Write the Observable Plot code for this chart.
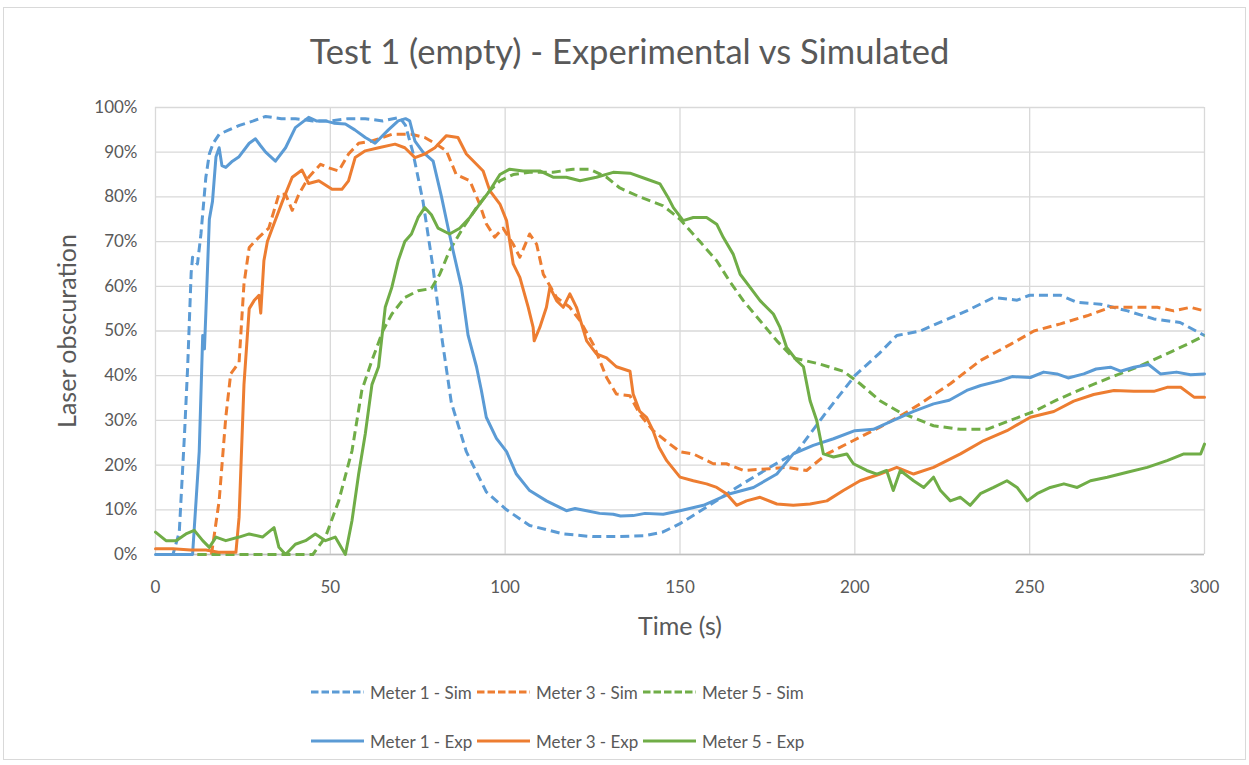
<!DOCTYPE html>
<html><head><meta charset="utf-8">
<script src="https://cdn.jsdelivr.net/npm/d3@7"></script>
<script src="https://cdn.jsdelivr.net/npm/@observablehq/plot@0.6"></script>
<style>
body{margin:0;background:#fff;font-family:Lato,"Open Sans",sans-serif;width:1249px;height:765px;overflow:hidden;position:relative;}
#frame{position:absolute;left:3px;top:7px;width:1243px;height:753px;border:1px solid #d9d9d9;box-sizing:border-box;}
#title{position:absolute;left:0;width:1259px;top:30px;text-align:center;font-size:34.5px;color:#595959;line-height:42px;}
#chart{position:absolute;left:0;top:0;}
.item{position:absolute;display:flex;align-items:center;font-size:17px;color:#595959;height:26px;white-space:nowrap;}
.item svg{margin-right:6px;}
#chart svg [aria-label="x-axis label"] text,#chart svg [aria-label="y-axis label"] text{font-size:25px;}
</style></head>
<body>
<div id="frame"></div>
<div id="title">Test 1 (empty) - Experimental vs Simulated</div>
<div id="chart"></div>
<div id="legend"></div>
<script>
const xTicks = [0, 50, 100, 150, 200, 250, 300];
const yTicks = [0, 10, 20, 30, 40, 50, 60, 70, 80, 90, 100];

const seriesNames = ["Meter 1 - Sim", "Meter 3 - Sim", "Meter 5 - Sim", "Meter 1 - Exp", "Meter 3 - Exp", "Meter 5 - Exp"];
const seriesColors = ["#5B9BD5", "#ED7D31", "#70AD47", "#5B9BD5", "#ED7D31", "#70AD47"];
const seriesDashed = [true, true, true, false, false, false];

const m1SimT = [0,5,6.8,8.3,9.2,10.2,10.6,12,13,14.4,15.4,16.5,18.2,21,24,28,31.5,36,40,45,50,55,60,65,69.8,71.5,73.6,76.5,79.4,81.8,84.6,88.9,94.6,100.4,107,116.6,125,132,140,145,150,157.6,166.2,175.7,183.4,192,200,207,212,218.7,224.5,232,239.7,246.4,250,258.8,263.6,270.3,278,285.5,293,300];
const m1SimV = [0,0,5,27,42,63,66.5,65,71.7,84.4,89.6,92,94,95,96,97,98,97.5,97.5,97,97,97.5,97.5,97,97.8,96,90,79,64,49,34,23,14,10,6.5,4.6,4,4,4.2,5,6.9,10.6,15,19.5,23,32,40,45,49,50,52,54.5,57.5,56.9,58,58,56.4,56,54.5,52.7,51.9,49];

const m3SimT = [0,16,18.2,20.1,21.5,23.9,25.3,26.8,29.6,32.4,35.3,37.2,39.1,41,43.8,47.2,49.5,52.4,55.2,58.1,61.9,67.6,73.2,77,80.3,83.2,86,89.9,92.7,94.6,97,99.4,102.3,104.2,107,109,110.9,114.7,118.5,121.4,125.2,129,131.8,135.7,138.5,142.3,147.1,150,153.8,159.5,163.3,168.1,175.7,180.5,186.2,192,199.6,207.2,213.9,218.7,227.3,235.9,244.5,251.2,258.8,266.4,273.1,279.8,286.5,291.2,296,300];
const m3SimV = [0,0,12,30.7,40.4,43,60.5,68.7,71,73,80.6,80.6,77,80.6,84.4,87.3,86.5,85.8,89.6,92,92.5,94,94,93.3,91.8,90.3,85,83.6,78.4,74,71,73,69.4,66.5,71.7,69.4,62.7,57.5,55.3,52.3,47,39.6,35.9,35.5,31.4,27.7,24.7,23,22.5,20.3,20.3,18.8,19.2,19.5,18.8,22.5,25.5,28.5,31.4,33.7,38.2,43.4,47,50,51.6,53.4,55.3,55.3,55.3,54.5,55.3,54.5];

const m5SimT = [0,45,48.6,52.4,56.2,59,61.9,65,67.6,71.3,75.1,78.9,81.3,84.1,87.9,91.8,95.6,98.5,102.3,107,113.7,119.4,124.2,129,132.8,138.5,145.2,150,155.7,160.5,164.3,168.1,172.9,177.7,182.4,190,196.7,201.5,207.2,212.9,218.7,222.5,230.2,237.8,244.5,251.2,257.8,265.5,273.1,280.7,288.4,295,300];
const m5SimV = [0,0,3.9,12,23.2,36.7,43.4,50,53.8,57.5,59,59.5,62.7,68,73,77.6,81.4,83.6,85,85.5,85.5,86.2,86.2,84.4,82,80,78,75,70,65.7,61,56.8,52.3,47.8,44,42.6,41,38.2,34.4,31.8,30,28.8,28,28,30,32,34.6,37.2,39.6,41.9,44.6,47,49];

const m1ExpT = [0,5,10.6,11.6,12.5,13.5,14,14.4,15.4,16.3,17.3,18.2,19,20.1,22,23.9,26.8,28.6,30,31.5,34.3,37.2,40,43.8,46,48.6,51,54.3,57,60,62.8,66.6,69.4,71.5,72.7,74.2,76.5,79.4,81.8,83.7,85.1,87.5,89.4,91.8,93.2,94.6,97.5,100.4,103.2,107,111.8,117.5,120,123.3,127,130.9,133,136.6,140,145.2,150,156.7,164.3,171,177.7,182.4,188.1,193.9,200,205.3,211,216.8,222.5,227,232,236,241.6,245,250.2,254,257.8,261,265.5,269,273.1,276,279.8,284,287.4,292,296,300];
const m1ExpV = [0,0,0,12,23,49,46,54,75,79,89,91,87,86.6,88,89,92,93,91.5,90,88,91,95.5,97.8,97,97,96.5,96.3,95,93.3,92,95,97,97.5,97,92.5,90,88,80,73,68,59.8,49,42,36.7,30.7,26,23,18,14.3,12,9.8,10.3,9.8,9.2,9,8.6,8.7,9.2,9,9.8,11,13.6,15,18,22.5,24.4,25.9,27.7,28,30,32,33.7,34.5,36.7,37.8,38.9,39.8,39.6,40.8,40.4,39.5,40.4,41.5,41.9,41,41.9,42.5,40.4,40.8,40.2,40.4];

const m3ExpT = [0,5,10,14.4,18,23,23.9,25.3,26.8,28.2,29.6,30.1,31,32,33.4,36.3,39.1,41.9,43.8,46.7,50.5,53.3,55.2,57.1,60,63.8,68.5,71.3,74.2,77,79.9,83.2,86.5,88.9,91.8,93.7,95.6,98.5,100.4,102.3,104.2,106.6,108,108.3,109.9,111.8,112.8,114.7,116.6,118.5,120.4,123.3,126.1,129,131.8,135.7,136.6,138.5,140.4,142.3,144,146.2,150,153.8,157.6,160.5,163.3,166.2,169,172.9,177.7,182.4,187.2,192,196.7,201.5,207.2,212,216.8,222.5,230.2,236.9,243.5,250.2,256.9,262.6,268.3,274.1,279.8,285.5,289.3,293.2,297,300];
const m3ExpV = [1.3,1.3,1,1,0.5,0.5,8.3,38,55,56.8,58,54,65.7,70,73,79,84.4,86,83,83.6,81.7,81.7,83.6,88.8,90.3,91,91.8,91,88.8,89.6,91,93.7,93.3,89.6,87.3,85.8,81.4,78.4,74.7,65,62,55.3,50.8,47.8,50.8,55.3,59.8,56.8,55.3,58.3,55.3,47.8,44.9,44,42,41,35.9,32,30.7,27.7,24,21,17.3,16.5,15.8,15,13.6,11,12,12.8,11.3,11,11.3,12,14.3,16.5,18,19.5,18,19.5,22.5,25.5,27.7,30.7,32,34.3,35.8,36.7,36.5,36.5,37.4,37.4,35.2,35.2];

const m5ExpT = [0,3,5.9,8.7,11.1,13.5,15.4,17.3,20.1,23.9,26.8,30.6,33.9,35.3,37.2,40,42.9,45.7,48.6,51.4,54.3,56.2,58.1,60,61.9,63.8,65.7,67.6,69.4,71.3,73.2,75.1,77,78.9,80.8,84.1,87,89.9,92.7,95.6,98.5,101.3,105.1,109.9,113.7,117.5,121.4,126.1,130.9,135.7,140.4,144.3,146.5,148.1,150.9,153.8,157.6,160.5,162.4,165.2,167.2,170,172.9,176.7,178.6,180.5,183.4,185.3,187.2,189.1,191,193.9,197.7,199.6,203.4,206.3,209.1,211,213,216.8,219.7,222.5,224.5,227.3,230.2,233,235.9,239.7,243.5,246.4,249.3,252.1,255.9,259.8,263.6,267.4,272.2,277.9,283.6,289.3,294.1,298.9,300];
const m5ExpV = [5,3.1,3.1,4.6,5.4,3.1,1.6,3.9,3.1,3.9,4.6,3.9,6,1.6,0,2.3,3.1,4.6,3.1,3.9,0,7.6,18,27,38,42,55.3,59.8,65.7,70,71.7,75.4,77.6,76,73,71.7,73,75.4,78.4,81.4,85,86.2,85.8,85.8,84.4,84.4,83.6,84.4,85.5,85.3,84,82.9,80,77.6,74.7,75.4,75.4,73.9,70.9,67.2,62.7,59.8,56.8,53.8,50.8,46.3,43.4,42,34.4,30,22.5,21.8,22.5,20.3,18.8,18,18.8,14.3,18.8,16.5,15,17.3,14.3,12,12.8,11,13.6,15,16.5,15,12,13.6,15,15.8,15,16.5,17.3,18.4,19.5,21,22.5,22.5,24.7];

const seriesT = [m1SimT, m3SimT, m5SimT, m1ExpT, m3ExpT, m5ExpT];
const seriesV = [m1SimV, m3SimV, m5SimV, m1ExpV, m3ExpV, m5ExpV];

const lineMarks = seriesNames.map((name, i) => {
  const rows = seriesT[i].map((t, j) => ({t, v: seriesV[i][j]}));
  return Plot.line(rows, {
    x: "t", y: "v", stroke: seriesColors[i], strokeWidth: 3,
    strokeDasharray: seriesDashed[i] ? "9,5" : null,
    strokeLinejoin: "round", strokeLinecap: seriesDashed[i] ? "butt" : "round"
  });
});

const chart = Plot.plot({
  width: 1249, height: 640,
  marginLeft: 155, marginRight: 45, marginTop: 107, marginBottom: 86,
  style: {fontFamily: "Lato, 'Open Sans', sans-serif", fontSize: "17px", color: "#595959", background: "transparent", overflow: "visible"},
  x: {domain: [0, 300], ticks: xTicks, tickSize: 0, tickPadding: 26, label: "Time (s)", labelAnchor: "center", labelOffset: 80, labelArrow: "none"},
  y: {domain: [0, 100], ticks: yTicks, tickSize: 0, tickPadding: 18, tickFormat: d => d + "%", label: "Laser obscuration", labelAnchor: "center", labelOffset: 97, labelArrow: "none"},
  marks: [
    Plot.gridY(yTicks, {stroke: "#d9d9d9", strokeOpacity: 1, strokeWidth: 1.3}),
    Plot.gridX(xTicks, {stroke: "#d9d9d9", strokeOpacity: 1, strokeWidth: 1.3}),
    Plot.ruleY([0], {stroke: "#bfbfbf", strokeWidth: 1.3}),
    ...lineMarks
  ]
});
document.getElementById("chart").appendChild(chart);

// legend
const legend = document.getElementById("legend");
seriesNames.forEach((name, i) => {
  const col = i % 3, row = Math.floor(i / 3);
  const el = document.createElement("div");
  el.className = "item";
  el.style.left = (311 + col * 166) + "px";
  el.style.top = (679 + row * 49) + "px";
  el.innerHTML = `<svg width="53" height="6"><line x1="0" x2="53" y1="3" y2="3" stroke="${seriesColors[i]}" stroke-width="3" ${seriesDashed[i] ? 'stroke-dasharray="7.5,3"' : ''}/></svg><span>${name}</span>`;
  legend.appendChild(el);
});
</script>
</body></html>
